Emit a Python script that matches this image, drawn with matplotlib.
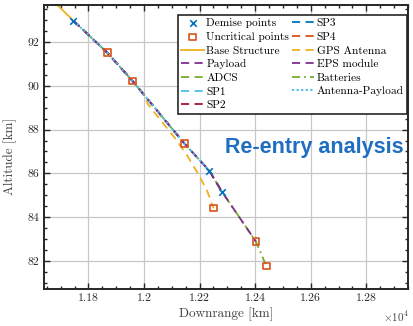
import numpy as np
import matplotlib
matplotlib.use('Agg')
import matplotlib.pyplot as plt
from matplotlib.ticker import MultipleLocator, FuncFormatter

plt.rcParams['font.family'] = 'cmr10'
plt.rcParams['mathtext.fontset'] = 'cm'
plt.rcParams['axes.unicode_minus'] = False

# main re-entry trajectory (downrange [km], altitude [km])
traj_x = [11675, 11746, 11868, 11958, 12084, 12145, 12235, 12280, 12403, 12440]
traj_y = [93.85, 92.97, 91.51, 90.23, 88.30, 87.37, 86.12, 85.17, 82.88, 81.77]

# GPS antenna branch after leaving the main path
gps_x = [11958, 11992, 12016, 12064, 12112, 12154, 12190, 12226, 12250]
gps_y = [90.23, 89.73, 89.12, 88.36, 87.60, 86.84, 86.08, 85.24, 84.41]

demise_x = [11746, 12235, 12280]
demise_y = [92.97, 86.12, 85.17]
uncrit_x = [11868, 11958, 12145, 12250, 12403, 12440]
uncrit_y = [91.51, 90.23, 87.37, 84.41, 82.88, 81.77]

# fragment: (name, start index, end index on trajectory, colour, style, drawing order)
fragments = [
    ('Base Structure', 0, 1, '#EDB120', '-', 2),
    ('Payload', 1, 7, '#7E2F8E', '--', 9),
    ('ADCS', 1, 7, '#77AC30', '--', 3),
    ('SP1', 1, 2, '#4DBEEE', '--', 4),
    ('SP2', 1, 3, '#A2142F', '--', 4),
    ('SP3', 1, 5, '#0072BD', '--', 4),
    ('SP4', 1, 5, '#D95319', '--', 4),
    ('GPS Antenna', 1, 3, '#EDB120', '--', 5),
    ('EPS module', 1, 8, '#7E2F8E', '--', 8),
    ('Batteries', 1, 9, '#77AC30', '-.', 3),
    ('Antenna-Payload', 1, 6, '#4DBEEE', ':', 10),
]
dash_styles = {'-': None, '--': (4.5, 3), '-.': (4.5, 2.2, 1, 2.2), ':': (1, 1.2)}

fig = plt.figure(figsize=(4.13, 3.26), dpi=100)
ax = fig.add_axes([44/413, 1-289/326, 364/413, 284/326])

handles = []
h = ax.scatter(demise_x, demise_y, marker='x', s=22, color='#0072BD', linewidths=1.2, zorder=15, label='Demise points')
handles.append(h)
h = ax.scatter(uncrit_x, uncrit_y, marker='s', s=22, facecolors='none', edgecolors='#D95319', linewidths=1.2, zorder=15, label='Uncritical points')
handles.append(h)

for name, i0, i1, col, ls, z in fragments:
    xs = list(traj_x[i0:i1+1])
    ys = list(traj_y[i0:i1+1])
    if name == 'GPS Antenna':
        xs += gps_x[1:]
        ys += gps_y[1:]
    lw = 1.5 if ls == ':' else 1.3
    h, = ax.plot(xs, ys, color=col, linewidth=lw, label=name, zorder=z)
    if dash_styles[ls] is not None:
        h.set_dashes(dash_styles[ls])
    handles.append(h)

ax.set_xlim(11640, 12950)
ax.set_ylim(80.72, 93.69)
ax.xaxis.set_major_locator(MultipleLocator(200))
ax.xaxis.set_minor_locator(MultipleLocator(50))
ax.yaxis.set_major_locator(MultipleLocator(2))
ax.yaxis.set_minor_locator(MultipleLocator(0.5))
ax.xaxis.set_major_formatter(FuncFormatter(lambda v, p: '%g' % (v/1e4)))
ax.yaxis.set_major_formatter(FuncFormatter(lambda v, p: '%d' % v))
ax.tick_params(which='both', direction='in', top=True, right=True, labelsize=8.5, colors='#262626', width=1)
ax.tick_params(which='major', length=4)
ax.tick_params(which='minor', length=2)
for s in ax.spines.values():
    s.set_linewidth(1.4)
    s.set_color('#262626')
ax.grid(True, which='major', color='#c8c8c8', linewidth=0.9)
ax.set_axisbelow(True)

ax.set_xlabel('Downrange [km]', fontsize=9.5, color='#404040', labelpad=3)
ax.set_ylabel('Altitude [km]', fontsize=9.5, color='#404040')
ax.yaxis.set_label_coords(-0.075, 0.468)
fig.text(396/413, 1-317/326, r'$\times10^{4}$', fontsize=8, ha='center', va='center', color='#404040')

leg = ax.legend(handles=handles, ncol=2, loc='upper right', bbox_to_anchor=(0.997, 0.965),
                borderaxespad=0, fontsize=8.2, handlelength=2.0, handletextpad=0.2,
                columnspacing=0.2, labelspacing=0.32, borderpad=0.3, fancybox=False,
                framealpha=1, edgecolor='#262626', scatterpoints=1)
leg.get_frame().set_linewidth(1.2)
leg.set_zorder(20)

fig.text(225/413, 1-152.7/326, 'Re-entry analysis', fontsize=15.5, fontweight='bold',
         family='Liberation Sans', color='#1F6EC1', ha='left', va='baseline')

fig.savefig('out.png', dpi=100)
